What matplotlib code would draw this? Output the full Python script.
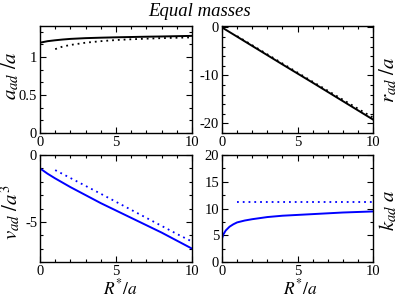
import matplotlib
matplotlib.use("Agg")
import matplotlib.pyplot as plt
from matplotlib.ticker import MultipleLocator, FormatStrFormatter

plt.rcParams['font.family'] = ['Liberation Serif', 'DejaVu Serif']
plt.rcParams['mathtext.fontset'] = 'stix'
plt.rcParams['axes.unicode_minus'] = False

# top-left: a_ad / a
a_x_solid = [0, 0.25, 0.5, 1, 1.5, 2, 3, 4, 5, 6, 7, 8, 9, 10]
a_y_solid = [1.19, 1.20, 1.21, 1.222, 1.232, 1.24, 1.25, 1.256, 1.261, 1.265, 1.269, 1.272, 1.276, 1.28]
a_x_dot = [1, 1.5, 2, 3, 4, 5, 6, 7, 8, 9, 10]
a_y_dot = [1.105, 1.14, 1.16, 1.19, 1.21, 1.225, 1.235, 1.243, 1.25, 1.255, 1.26]

# top-right: r_ad / a
r_x_solid = [0, 2, 4, 6, 8, 10]
r_y_solid = [0.0, -3.85, -7.7, -11.5, -15.35, -19.2]
r_x_dot = [1, 2, 4, 6, 8, 10]
r_y_dot = [-1.8, -3.7, -7.5, -11.3, -15.05, -18.8]

# bottom-left: v_ad / a^3
v_x_solid = [0, 0.5, 1, 2, 3, 4, 5, 6, 7, 8, 9, 10]
v_y_solid = [-1.0, -1.4, -1.75, -2.4, -3.0, -3.6, -4.15, -4.7, -5.25, -5.8, -6.4, -7.0]
v_x_dot = [1, 2, 3, 4, 5, 6, 7, 8, 9, 10]
v_y_dot = [-1.13, -1.72, -2.31, -2.9, -3.5, -4.1, -4.7, -5.3, -5.9, -6.47]

# bottom-right: k_ad a
k_x_solid = [0, 0.1, 0.25, 0.5, 0.75, 1, 1.5, 2, 3, 4, 5, 6, 7, 8, 9, 10]
k_y_solid = [4.4, 5.2, 5.9, 6.6, 7.05, 7.4, 7.75, 8.0, 8.4, 8.65, 8.8, 8.95, 9.1, 9.25, 9.35, 9.45]
k_x_dot = [1, 10]
k_y_dot = [11.2, 11.2]

BLUE = '#0000ff'
W, H = 399, 298
fig = plt.figure(figsize=(W/100, H/100), dpi=100)

def ax_at(l, t, r, b):
    return fig.add_axes([l/W, 1-b/H, (r-l)/W, (b-t)/H])

def px_text(x, y, s, **kw):
    fig.text(x/W, 1-y/H, s, ha='center', va='center', **kw)

axes = [ax_at(40, 26, 192, 133), ax_at(222, 26, 373, 133),
        ax_at(40, 155, 192, 262), ax_at(222, 155, 373, 262)]

for ax in axes:
    ax.set_xlim(0, 10)
    ax.xaxis.set_major_locator(MultipleLocator(5))
    ax.xaxis.set_minor_locator(MultipleLocator(1))
    ax.xaxis.set_major_formatter(FormatStrFormatter('%g'))
    ax.yaxis.set_major_formatter(FormatStrFormatter('%g'))
    ax.tick_params(which='both', direction='in', top=True, right=True, labelsize=10.5, pad=2)
    ax.tick_params(which='major', length=4, width=0.8)
    ax.tick_params(which='minor', length=2.5, width=0.8)
    for s in ax.spines.values():
        s.set_linewidth(1.0)

dot = dict(linestyle=(0, (1, 2.2)), linewidth=1.3)
YL = 15
XL = 12.5

ax = axes[0]
ax.plot(a_x_solid, a_y_solid, color='black', lw=1.4)
ax.plot(a_x_dot, a_y_dot, color='black', **dot)
ax.set_ylim(0, 1.41)
ax.yaxis.set_major_locator(MultipleLocator(0.5))
ax.yaxis.set_minor_locator(MultipleLocator(0.5/3))

ax = axes[1]
ax.plot(r_x_solid, r_y_solid, color='black', lw=1.4)
ax.plot(r_x_dot, r_y_dot, color='black', **dot)
ax.set_ylim(-22, 0.3)
ax.yaxis.set_major_locator(MultipleLocator(10))
ax.yaxis.set_minor_locator(MultipleLocator(2))

ax = axes[2]
ax.plot(v_x_solid, v_y_solid, color=BLUE, lw=1.4)
ax.plot(v_x_dot, v_y_dot, color=BLUE, **dot)
ax.set_ylim(-8, 0)
ax.yaxis.set_major_locator(MultipleLocator(5))
ax.yaxis.set_minor_locator(MultipleLocator(1))

ax = axes[3]
ax.plot(k_x_solid, k_y_solid, color=BLUE, lw=1.4)
ax.plot(k_x_dot, k_y_dot, color=BLUE, **dot)
ax.set_ylim(0, 20)
ax.yaxis.set_major_locator(MultipleLocator(5))
ax.yaxis.set_minor_locator(MultipleLocator(2.5))

px_text(10, 76, r'$a_{ad}\ /a$', fontsize=YL, rotation=90)
px_text(11, 212, r'$v_{ad}\ /a^3$', fontsize=YL, rotation=90)
px_text(388, 80, r'$r_{ad}\ /a$', fontsize=YL, rotation=90)
px_text(388, 210, r'$k_{ad}\ a$', fontsize=YL, rotation=90)
px_text(120, 288, r'$R^{*}/a$', fontsize=XL)
px_text(300, 288, r'$R^{*}/a$', fontsize=XL)
px_text(200, 12, 'Equal masses', fontsize=13.5, style='italic')

fig.savefig('out.png', dpi=100)
